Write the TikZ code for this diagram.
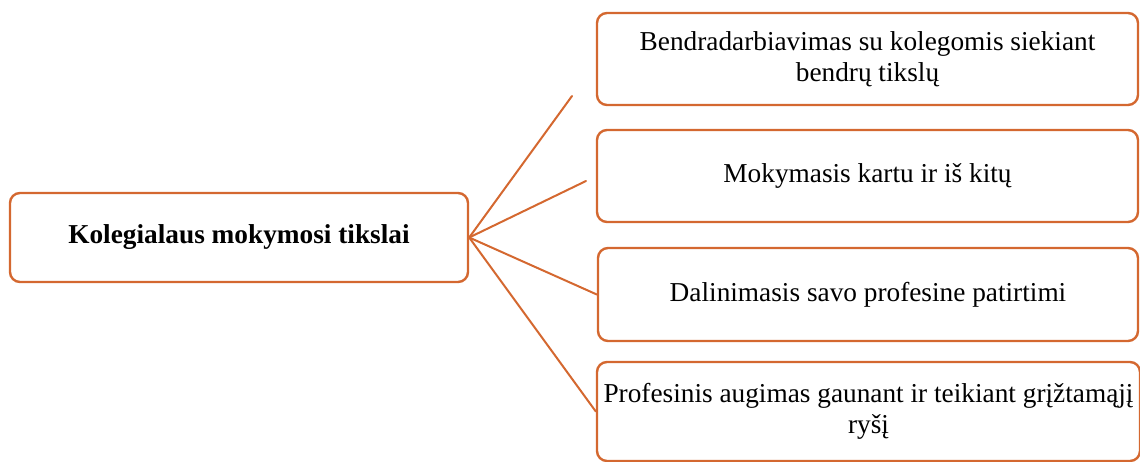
\documentclass[tikz,border=0pt]{standalone}
\usepackage{fontspec}
\setmainfont{Liberation Serif}
\definecolor{boxorange}{RGB}{212,104,48}
\tikzset{
  goal/.style={draw=boxorange, line width=2.4pt, rounded corners=10pt, fill=white,
    align=center, inner sep=0pt, font=\fontsize{27.3}{31.2}\selectfont},
  maingoal/.style={goal, font=\fontsize{27.3}{31.2}\selectfont\bfseries},
  link/.style={draw=boxorange, line width=2pt, line cap=round}
}
\begin{document}
\begin{tikzpicture}[x=1pt,y=-1pt]
\useasboundingbox (0,0) rectangle (1140,462);
\node[maingoal, minimum width=458pt, minimum height=89pt] (main) at (239,237.5) {Kolegialaus mokymosi tikslai};
\node[goal, minimum width=541pt, minimum height=92pt] (g1) at (867.5,59) {Bendradarbiavimas su kolegomis siekiant\\bendrų tikslų};
\node[goal, minimum width=541pt, minimum height=92pt] (g2) at (867.5,176) {Mokymasis kartu ir iš kitų};
\node[goal, minimum width=540pt, minimum height=93pt] (g3) at (868,294.5) {Dalinimasis savo profesine patirtimi};
\node[goal, minimum width=543pt, minimum height=99pt] (g4) at (868.5,411.5) {Profesinis augimas gaunant ir teikiant grįžtamąjį\\ryšį};
\coordinate (e1) at (572,96);
\coordinate (e2) at (586,181);
\draw[link] (main.east) -- (e1);
\draw[link] (main.east) -- (e2);
\draw[link] (main.east) -- (g3.west);
\draw[link] (main.east) -- (g4.west);
\end{tikzpicture}
\end{document}
